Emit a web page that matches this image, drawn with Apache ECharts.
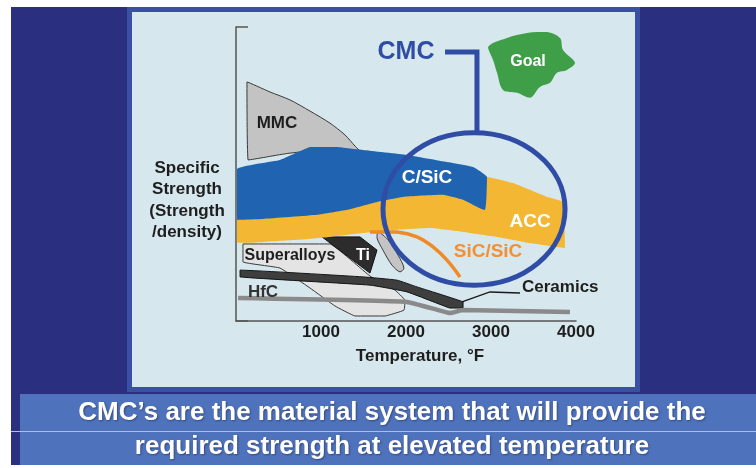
<!DOCTYPE html>
<html>
<head>
<meta charset="utf-8">
<script src="https://cdn.jsdelivr.net/npm/echarts@6/dist/echarts.min.js"></script>
<style>
html,body{margin:0;padding:0;background:#ffffff;}
#chart{width:756px;height:468px;}
</style>
</head>
<body>
<div id="chart"></div>
<script>
// ---------- data (x: temperature °F, y: relative specific strength 0-100) ----------
const xTicks = [1000, 2000, 3000, 4000];
const yTitle = ['Specific', 'Strength', '(Strength', '/density)'];
const xTitle = 'Temperature, °F';
const bannerLines = ['CMC\u2019s are the material system that will provide the', 'required strength at elevated temperature'];

const mmcPts = [[129,81.3],[400,77.9],[635,75.2],[871,71.4],[1106,67.3],[1282,63.3],[1400,59.5],[1482,57.1],[1106,58.2],[635,57.1],[141,54.8]];
const accPts = [[10,41.2],[1341,42.9],[2518,48.0],[2953,49.0],[3259,46.9],[3659,42.2],[3847,40.5],[3871,24.8],[3459,26.5],[3071,28.6],[2671,30.3],[2282,31.6],[1894,31.0],[1494,29.9],[1106,28.6],[718,27.6],[318,26.9],[10,26.9]];
const csicPts = [[10,51.7],[518,54.8],[871,59.2],[1188,59.2],[1494,58.2],[2012,56.5],[2482,54.1],[2788,52.4],[2953,49.0],[2929,37.8],[2671,41.2],[2435,42.9],[1965,42.2],[1659,40.5],[1306,37.8],[953,36.1],[318,34.7],[10,34.4]];
const sicsicLine = [[1576,30.3],[1894,30.3],[2129,28.6],[2318,25.2],[2482,20.7],[2635,15.0]];
const superalloysPts = [[82,26.2],[1106,26.2],[1576,15.3],[1871,10.5],[1988,7.1],[1976,3.7],[1753,1.7],[1400,1.7],[1165,5.1],[871,11.2],[518,18.0],[82,20.1]];
const tiPts = [[1012,28.6],[1459,28.6],[1659,24.1],[1576,16.3]];
const leafPts = [[1671,30.3],[1788,27.6],[1906,22.4],[1976,18.0],[1929,16.7],[1835,19.0],[1729,24.1],[1659,28.2]];
const ceramicBandPts = [[47,17.3],[1494,15.0],[1894,13.9],[2129,11.6],[2671,6.5],[2671,4.4],[2518,4.4],[2012,9.9],[1576,12.2],[47,15.0]];
const hfcLine = [[24,7.8],[2012,6.5],[2518,2.7],[2671,3.7],[3929,3.1]];
const ceramicsLeader = [[2659,6.5],[2988,9.9],[3341,9.5]];
const cmcLeader = [[2459,91.5],[2835,91.5],[2835,63.9]];
const cmcEllipse = [2800, 38.1, 1071, 25.9]; // centre x, centre y, radius x, radius y
const goalPts = [[2965,93.2],[3188,96.3],[3424,98.0],[3659,98.3],[3812,96.3],[3847,92.2],[3988,87.8],[3894,85.4],[3776,84.4],[3694,81.0],[3576,79.6],[3459,75.9],[3306,77.6],[3141,78.6],[3071,84.4],[3024,88.8]];
const labelPts = [
  [482, 67.3, 'MMC'],
  [2247, 48.6, 'C/SiC'],
  [3459, 33.7, 'ACC'],
  [2965, 23.5, 'SiC/SiC'],
  [635, 22.4, 'Superalloys'],
  [1494, 22.4, 'Ti'],
  [318, 9.9, 'HfC'],
  [3365, 11.6, 'Ceramics'],
  [2000, 91.5, 'CMC'],
  [3435, 88.1, 'Goal']
];

// ---------- styling ----------
const FONT = "'Liberation Sans', Arial, Helvetica, sans-serif";
const labelStyle = {
  'MMC': {fill:'#1e1e1e', size:17, align:'center'},
  'C/SiC': {fill:'#ffffff', size:19, align:'center'},
  'ACC': {fill:'#ffffff', size:19, align:'center'},
  'SiC/SiC': {fill:'#f29134', size:19, align:'center'},
  'Superalloys': {fill:'#1e1e1e', size:16, align:'center'},
  'Ti': {fill:'#ffffff', size:16, align:'center'},
  'HfC': {fill:'#333333', size:17, align:'center'},
  'Ceramics': {fill:'#1e1e1e', size:17, align:'left'},
  'CMC': {fill:'#2f4da5', size:25, align:'center'},
  'Goal': {fill:'#ffffff', size:16, align:'center'}
};

function shapeSeries(pts, kind, style, z, smooth) {
  return {
    type: 'custom', coordinateSystem: 'cartesian2d', z: z, silent: true, clip: false,
    data: pts,
    renderItem: function (params, api) {
      if (params.dataIndex !== 0) return null;
      const points = pts.map(function (p) { return api.coord(p); });
      const xs = points.map(function (p) { return p[0]; });
      const ys = points.map(function (p) { return p[1]; });
      const box = [[Math.min.apply(null, xs), Math.min.apply(null, ys)], [Math.max.apply(null, xs), Math.max.apply(null, ys)]];
      return {type: kind, shape: {points: points, smooth: smooth || 0, smoothConstraint: box}, style: style};
    }
  };
}

const chart = echarts.init(document.getElementById('chart'), null, {renderer: 'canvas'});

const series = [
  shapeSeries(mmcPts, 'polygon', {fill:'#c3c3c3', stroke:'#3a3a3a', lineWidth:1}, 2, 0.25),
  shapeSeries(superalloysPts, 'polygon', {fill:'#e4e4e4', stroke:'#3a3a3a', lineWidth:1}, 3, 0.1),
  shapeSeries(tiPts, 'polygon', {fill:'#2c2c2c', stroke:'#111', lineWidth:1}, 4, 0),
  shapeSeries(leafPts, 'polygon', {fill:'#c4c4c4', stroke:'#3a3a3a', lineWidth:1}, 4, 0.3),
  shapeSeries(accPts, 'polygon', {fill:'#f4b733'}, 5, 0.12),
  shapeSeries(csicPts, 'polygon', {fill:'#1f63b1'}, 6, 0.12),
  shapeSeries(ceramicBandPts, 'polygon', {fill:'#3e3e3e', stroke:'#141414', lineWidth:1}, 7, 0.1),
  shapeSeries(hfcLine, 'polyline', {fill:null, stroke:'#8a8a8a', lineWidth:4.5}, 8, 0.1),
  shapeSeries(ceramicsLeader, 'polyline', {fill:null, stroke:'#1a1a1a', lineWidth:1.5}, 8, 0),
  shapeSeries(sicsicLine, 'polyline', {fill:null, stroke:'#f08a28', lineWidth:3.5}, 9, 0.4),
  shapeSeries(cmcLeader, 'polyline', {fill:null, stroke:'#2f4da5', lineWidth:5}, 10, 0),
  shapeSeries(goalPts, 'polygon', {fill:'#3f9f48'}, 10, 0.35),
  {
    type: 'custom', coordinateSystem: 'cartesian2d', z: 11, silent: true, clip: false,
    data: [cmcEllipse],
    renderItem: function (params, api) {
      const v = cmcEllipse;
      const c = api.coord([v[0], v[1]]);
      const e = api.coord([v[0] + v[2], v[1] + v[3]]);
      return {type: 'ellipse', shape: {cx: c[0], cy: c[1], rx: e[0] - c[0], ry: c[1] - e[1]},
        style: {fill: null, stroke: '#2f4da5', lineWidth: 5}};
    }
  },
  {
    type: 'custom', coordinateSystem: 'cartesian2d', z: 12, silent: true, clip: false,
    data: labelPts.map(function (l) { return [l[0], l[1]]; }),
    renderItem: function (params, api) {
      const l = labelPts[params.dataIndex];
      const s = labelStyle[l[2]];
      const p = api.coord([l[0], l[1]]);
      return {type: 'text', x: p[0], y: p[1],
        style: {text: l[2], fill: s.fill, font: 'bold ' + s.size + 'px ' + FONT,
          align: s.align, textAlign: s.align, verticalAlign: 'middle', textVerticalAlign: 'middle'}};
    }
  }
];

const graphics = [
  {type:'rect', z:-20, silent:true, shape:{x:11, y:7, width:745, height:458}, style:{fill:'#2b2f7f'}},
  {type:'rect', z:-19, silent:true, shape:{x:127, y:7, width:513, height:385}, style:{fill:'#3a50a6'}},
  {type:'rect', z:-18, silent:true, shape:{x:132, y:12, width:503, height:375}, style:{fill:'#d7e7ee'}},
  {type:'rect', z:-19, silent:true, shape:{x:20, y:394, width:736, height:71}, style:{fill:'#4f72bc'}},
  {type:'rect', z:-17, silent:true, shape:{x:11, y:431, width:745, height:1}, style:{fill:'#aebde3'}}
];
yTitle.forEach(function (t, i) {
  graphics.push({type:'text', z:5, silent:true, x:187, y:168 + i * 21.5,
    style:{text:t, fill:'#1e1e1e', font:'bold 17px ' + FONT, align:'center', verticalAlign:'middle'}});
});
graphics.push({type:'text', z:5, silent:true, x:420, y:356,
  style:{text:xTitle, fill:'#1e1e1e', font:'bold 17px ' + FONT, align:'center', verticalAlign:'middle'}});
bannerLines.forEach(function (t, i) {
  graphics.push({type:'text', z:5, silent:true, x:392, y:413 + i * 34,
    style:{text:t, fill:'#ffffff', font:'bold 26px ' + FONT,
      align:'center', verticalAlign:'middle', textShadowColor:'rgba(0,0,0,0.35)', textShadowBlur:2, textShadowOffsetX:1, textShadowOffsetY:1}});
});

chart.setOption({
  animation: false,
  backgroundColor: 'transparent',
  grid: {left: 236, top: 27, width: 340, height: 294, containLabel: false},
  xAxis: {
    type: 'value', min: 0, max: 4000, interval: 1000,
    axisLine: {show: true, lineStyle: {color: '#555', width: 1.5}},
    axisTick: {show: false},
    splitLine: {show: false},
    axisLabel: {
      margin: 3, color: '#1e1e1e', fontWeight: 'bold', fontSize: 17, fontFamily: FONT,
      formatter: function (v) { return xTicks.indexOf(v) >= 0 ? String(v) : ''; }
    }
  },
  yAxis: {
    type: 'value', min: 0, max: 100, interval: 100,
    axisLine: {show: true, lineStyle: {color: '#555', width: 1.5}},
    axisTick: {show: true, inside: true, length: 12, lineStyle: {color: '#555', width: 1.5}},
    splitLine: {show: false},
    axisLabel: {show: false}
  },
  graphic: graphics,
  series: series
});
</script>
</body>
</html>
